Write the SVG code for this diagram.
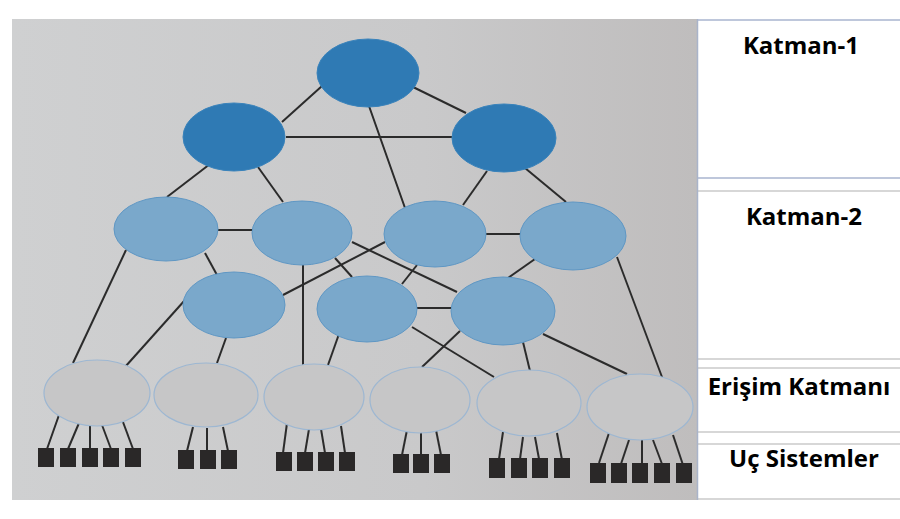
<svg xmlns="http://www.w3.org/2000/svg" width="900" height="519" viewBox="0 0 900 519">
<defs>
<linearGradient id="bg" x1="0" y1="0" x2="1" y2="0">
<stop offset="0" stop-color="#cfd0d1"/>
<stop offset="0.6" stop-color="#c9c9ca"/>
<stop offset="1" stop-color="#bfbdbd"/>
</linearGradient>
</defs>
<style>
.c{stroke:#2b2b2b;stroke-width:2;fill:none}
.t1{fill:#2f7ab4;stroke:#3a83bb;stroke-width:1}
.t2{fill:#7aa8cb;stroke:#5f97c4;stroke-width:1}
.t3{fill:#c6c6c7;stroke:#9db7d2;stroke-width:1.2}
.es{fill:#2a2828}
.lbl{font-family:"Open Sans","Liberation Sans",sans-serif;font-weight:bold;font-size:24px;fill:#000;text-anchor:middle}
.pl{stroke:#b0b0b0;stroke-width:1.2}
</style>
<rect width="900" height="519" fill="#ffffff"/>
<rect x="12" y="19" width="685" height="481" fill="url(#bg)"/>
<g id="panel">
<line x1="697.5" y1="19" x2="697.5" y2="500" stroke="#a9b4ca" stroke-width="1.5"/>
<line x1="698" y1="20" x2="900" y2="20" stroke="#a9b5cf" stroke-width="1.5"/>
<line x1="698" y1="178" x2="900" y2="178" stroke="#a9b5cf" stroke-width="1.5"/>
<line class="pl" x1="698" y1="191" x2="900" y2="191"/>
<line class="pl" x1="698" y1="359" x2="900" y2="359"/>
<line class="pl" x1="698" y1="368" x2="900" y2="368"/>
<line class="pl" x1="698" y1="432" x2="900" y2="432"/>
<line class="pl" x1="698" y1="444" x2="900" y2="444"/>
<line class="pl" x1="698" y1="499" x2="900" y2="499"/>
<text class="lbl" x="801" y="54">Katman-1</text>
<text class="lbl" x="804" y="225">Katman-2</text>
<text class="lbl" x="799" y="395">Erişim Katmanı</text>
<text class="lbl" x="804" y="467">Uç Sistemler</text>
</g>
<g id="connectors">
<line class="c" x1="322" y1="86" x2="282" y2="122"/>
<line class="c" x1="413" y1="87" x2="466" y2="113"/>
<line class="c" x1="369" y1="106" x2="405" y2="208"/>
<line class="c" x1="286" y1="137" x2="452" y2="137"/>
<line class="c" x1="210" y1="164" x2="167" y2="197"/>
<line class="c" x1="258" y1="167" x2="283" y2="202"/>
<line class="c" x1="487" y1="171" x2="463" y2="205"/>
<line class="c" x1="525" y1="168" x2="566" y2="202"/>
<line class="c" x1="218" y1="230" x2="252" y2="230"/>
<line class="c" x1="486" y1="234" x2="520" y2="234"/>
<line class="c" x1="126" y1="250" x2="73" y2="363"/>
<line class="c" x1="205" y1="253" x2="217" y2="275"/>
<line class="c" x1="352" y1="242" x2="457" y2="292"/>
<line class="c" x1="335" y1="258" x2="352" y2="277"/>
<line class="c" x1="303" y1="265" x2="303" y2="365"/>
<line class="c" x1="385" y1="242" x2="283" y2="295"/>
<line class="c" x1="417" y1="265" x2="402" y2="284"/>
<line class="c" x1="535" y1="259" x2="508" y2="278"/>
<line class="c" x1="617" y1="257" x2="662" y2="377"/>
<line class="c" x1="185" y1="300" x2="125" y2="367"/>
<line class="c" x1="226" y1="338" x2="217" y2="363"/>
<line class="c" x1="417" y1="308" x2="451" y2="308"/>
<line class="c" x1="339" y1="334" x2="328" y2="365"/>
<line class="c" x1="412" y1="327" x2="494" y2="377"/>
<line class="c" x1="460" y1="331" x2="422" y2="367"/>
<line class="c" x1="523" y1="342" x2="530" y2="371"/>
<line class="c" x1="543" y1="334" x2="627" y2="374"/>
<line class="c" x1="59" y1="415" x2="47" y2="449"/>
<line class="c" x1="79" y1="423" x2="68" y2="449"/>
<line class="c" x1="90" y1="425" x2="90" y2="449"/>
<line class="c" x1="102" y1="425" x2="111" y2="449"/>
<line class="c" x1="123" y1="422" x2="133" y2="449"/>
<line class="c" x1="193" y1="427" x2="187" y2="451"/>
<line class="c" x1="207" y1="428" x2="207" y2="451"/>
<line class="c" x1="223" y1="427" x2="228" y2="451"/>
<line class="c" x1="287" y1="423" x2="283" y2="453"/>
<line class="c" x1="309" y1="429" x2="305" y2="453"/>
<line class="c" x1="321" y1="429" x2="325" y2="453"/>
<line class="c" x1="341" y1="426" x2="345" y2="453"/>
<line class="c" x1="407" y1="430" x2="402" y2="455"/>
<line class="c" x1="421" y1="432" x2="421" y2="455"/>
<line class="c" x1="436" y1="430" x2="441" y2="455"/>
<line class="c" x1="503" y1="432" x2="499" y2="459"/>
<line class="c" x1="523" y1="437" x2="520" y2="459"/>
<line class="c" x1="535" y1="437" x2="539" y2="459"/>
<line class="c" x1="557" y1="433" x2="562" y2="460"/>
<line class="c" x1="609" y1="433" x2="599" y2="463"/>
<line class="c" x1="629" y1="440" x2="621" y2="464"/>
<line class="c" x1="642" y1="440" x2="642" y2="464"/>
<line class="c" x1="653" y1="440" x2="662" y2="464"/>
<line class="c" x1="673" y1="435" x2="683" y2="465"/>
</g>
<g id="core-top"><ellipse class="t1" cx="368" cy="73" rx="51" ry="34"/></g>
<g id="core-left"><ellipse class="t1" cx="234" cy="137" rx="51" ry="34"/></g>
<g id="core-right"><ellipse class="t1" cx="504" cy="138" rx="52" ry="34"/></g>
<g id="t2-a1"><ellipse class="t2" cx="166" cy="229" rx="52" ry="32"/></g>
<g id="t2-a2"><ellipse class="t2" cx="302" cy="233" rx="50" ry="32"/></g>
<g id="t2-a3"><ellipse class="t2" cx="435" cy="234" rx="51" ry="33"/></g>
<g id="t2-a4"><ellipse class="t2" cx="573" cy="236" rx="53" ry="34"/></g>
<g id="t2-b1"><ellipse class="t2" cx="234" cy="305" rx="51" ry="33"/></g>
<g id="t2-b2"><ellipse class="t2" cx="367" cy="309" rx="50" ry="33"/></g>
<g id="t2-b3"><ellipse class="t2" cx="503" cy="311" rx="52" ry="34"/></g>
<g id="acc-1"><ellipse class="t3" cx="97" cy="393" rx="53" ry="33"/></g>
<g id="acc-2"><ellipse class="t3" cx="206" cy="395" rx="52" ry="32"/></g>
<g id="acc-3"><ellipse class="t3" cx="314" cy="397" rx="50" ry="33"/></g>
<g id="acc-4"><ellipse class="t3" cx="420" cy="400" rx="50" ry="33"/></g>
<g id="acc-5"><ellipse class="t3" cx="529" cy="403" rx="52" ry="33"/></g>
<g id="acc-6"><ellipse class="t3" cx="640" cy="407" rx="53" ry="33"/></g>
<g id="end-systems-1">
<rect class="es" x="38" y="448" width="16" height="19"/>
<rect class="es" x="60" y="448" width="16" height="19"/>
<rect class="es" x="82" y="448" width="16" height="19"/>
<rect class="es" x="103" y="448" width="16" height="19"/>
<rect class="es" x="125" y="448" width="16" height="19"/>
</g>
<g id="end-systems-2">
<rect class="es" x="178" y="450" width="16" height="19"/>
<rect class="es" x="200" y="450" width="16" height="19"/>
<rect class="es" x="221" y="450" width="16" height="19"/>
</g>
<g id="end-systems-3">
<rect class="es" x="276" y="452" width="16" height="19"/>
<rect class="es" x="297" y="452" width="16" height="19"/>
<rect class="es" x="318" y="452" width="16" height="19"/>
<rect class="es" x="339" y="452" width="16" height="19"/>
</g>
<g id="end-systems-4">
<rect class="es" x="393" y="454" width="16" height="19"/>
<rect class="es" x="413" y="454" width="16" height="19"/>
<rect class="es" x="434" y="454" width="16" height="19"/>
</g>
<g id="end-systems-5">
<rect class="es" x="489" y="458" width="16" height="20"/>
<rect class="es" x="511" y="458" width="16" height="20"/>
<rect class="es" x="532" y="458" width="16" height="20"/>
<rect class="es" x="554" y="458" width="16" height="20"/>
</g>
<g id="end-systems-6">
<rect class="es" x="590" y="463" width="16" height="20"/>
<rect class="es" x="611" y="463" width="16" height="20"/>
<rect class="es" x="632" y="463" width="16" height="20"/>
<rect class="es" x="654" y="463" width="16" height="20"/>
<rect class="es" x="676" y="463" width="16" height="20"/>
</g>
</svg>
